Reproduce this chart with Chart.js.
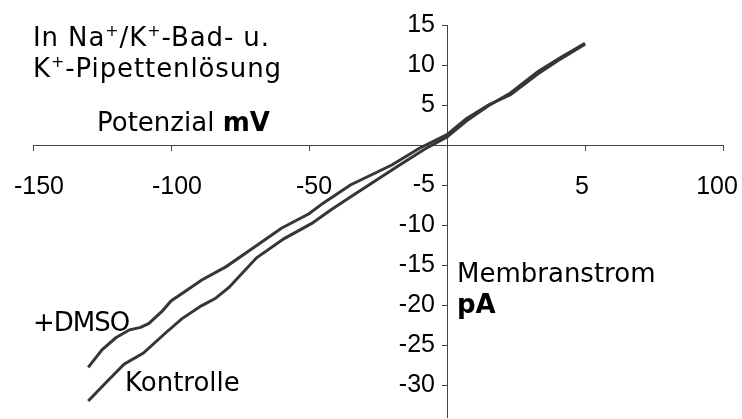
<!DOCTYPE html>
<html>
<head>
<meta charset="utf-8">
<script src="https://cdn.jsdelivr.net/npm/chart.js@4/dist/chart.umd.min.js"></script>
<style>
  html, body { margin: 0; padding: 0; background: #fff; }
  #wrap { position: relative; width: 742px; height: 419px; }
  canvas { position: absolute; left: 0; top: 0; }
  .lbl { position: absolute; font-family: 'DejaVu Sans', Verdana, sans-serif; font-size: 26px; color: #000; white-space: nowrap; line-height: 31px; }
  .lbl sup { font-size: 16px; vertical-align: 10px; line-height: 0; }
</style>
</head>
<body>
<div id="wrap">
  <canvas id="chart" width="742" height="419"></canvas>
  <div class="lbl" style="left:33px; top:22px; letter-spacing:0.9px;">In Na<sup>+</sup>/K<sup>+</sup>-Bad- u.<br>K<sup>+</sup>-Pipettenlösung</div>
  <div class="lbl" style="left:97px; top:107px;">Potenzial <b>mV</b></div>
  <div class="lbl" style="left:457px; top:258px;">Membranstrom<br><b>pA</b></div>
  <div class="lbl" style="left:33px; top:307px; letter-spacing:-1px;">+DMSO</div>
  <div class="lbl" style="left:125px; top:367px;">Kontrolle</div>
</div>
<script>
// Potenzial (mV) vs. Membranstrom (pA)
const dmsoX = [-130, -125, -120, -115, -111, -108, -103, -100, -94, -89, -80, -70, -60, -50, -45, -35, -20, -10, 0, 7, 15, 23, 33, 40, 50];
const dmsoY = [-27.8, -25.6, -24.1, -23.1, -22.8, -22.3, -20.7, -19.5, -18.1, -16.9, -15.2, -12.8, -10.4, -8.6, -7.3, -5.0, -2.5, -0.4, 1.3, 3.3, 5.0, 6.3, 8.9, 10.5, 12.6];
const kontrolleX = [-130, -123, -117, -110, -102, -96, -89, -84, -79, -69, -59, -49, -42, -35, -18, -8, 0, 7, 15, 23, 33, 41, 50];
const kontrolleY = [-32.0, -29.5, -27.4, -26.0, -23.5, -21.7, -20.1, -19.2, -17.8, -14.1, -11.7, -9.8, -8.1, -6.5, -2.7, -0.5, 1.0, 3.0, 4.9, 6.5, 9.2, 10.9, 12.7];
const xTicks = [-150, -100, -50, 0, 50, 100];
const xTickLabels = ['-150', '-100', '-50', '', '5', '100'];
const yTicks = [15, 10, 5, 0, -5, -10, -15, -20, -25, -30];

const toPoints = (xs, ys) => xs.map((x, i) => ({ x: x, y: ys[i] }));
const tickFont = { family: "'Liberation Sans', Arial, sans-serif", size: 25 };

// axes sit in the middle of the plot, so nudge their labels off the axis lines
const xLabelNudge = [6, 6, 5, 0, -3, -6];
const labelNudge = {
  id: 'labelNudge',
  beforeDraw(chart) {
    const xs = chart.scales.x.getLabelItems();
    if (!xs._nudged) {
      xs.forEach((it, i) => { it.options.translation[0] += xLabelNudge[i] || 0; });
      xs._nudged = true;
    }
    const ys = chart.scales.y.getLabelItems();
    if (!ys._nudged) {
      ys.forEach(it => { it.options.translation[0] -= 12; });
      ys._nudged = true;
    }
  }
};

new Chart(document.getElementById('chart'), {
  type: 'line',
  data: {
    datasets: [{
      label: '+DMSO',
      data: toPoints(dmsoX, dmsoY),
      borderColor: '#363636',
      borderWidth: 3,
      pointRadius: 0,
      tension: 0
    }, {
      label: 'Kontrolle',
      data: toPoints(kontrolleX, kontrolleY),
      borderColor: '#363636',
      borderWidth: 3,
      pointRadius: 0,
      tension: 0
    }]
  },
  options: {
    responsive: false,
    animation: false,
    devicePixelRatio: 1,
    layout: { padding: { left: 33, right: 19, top: 25, bottom: 2 } },
    plugins: { legend: { display: false }, tooltip: { enabled: false } },
    scales: {
      x: {
        type: 'linear',
        position: { y: 0 },
        min: -150,
        max: 100,
        afterBuildTicks: s => { s.ticks = xTicks.map(v => ({ value: v })); },
        afterFit: s => { s.paddingLeft = 0; s.paddingRight = 0; s.paddingTop = 0; s.paddingBottom = 0; },
        ticks: {
          callback: v => xTickLabels[xTicks.indexOf(v)],
          font: tickFont,
          color: '#000',
          padding: 22,
          maxRotation: 0,
          autoSkip: false
        },
        grid: { drawOnChartArea: false, tickLength: 5, color: '#444' },
        border: { color: '#444', width: 1 }
      },
      y: {
        type: 'linear',
        position: { x: 0 },
        min: -34,
        max: 15,
        afterBuildTicks: s => { s.ticks = yTicks.map(v => ({ value: v })); },
        afterFit: s => { s.paddingLeft = 0; s.paddingRight = 0; s.paddingTop = 0; s.paddingBottom = 0; },
        ticks: {
          callback: v => (v === 0 ? '' : String(v)),
          font: tickFont,
          color: '#000',
          autoSkip: false
        },
        grid: { drawOnChartArea: false, tickLength: 5, color: '#444' },
        border: { color: '#444', width: 1 }
      }
    }
  },
  plugins: [labelNudge]
});
</script>
</body>
</html>
